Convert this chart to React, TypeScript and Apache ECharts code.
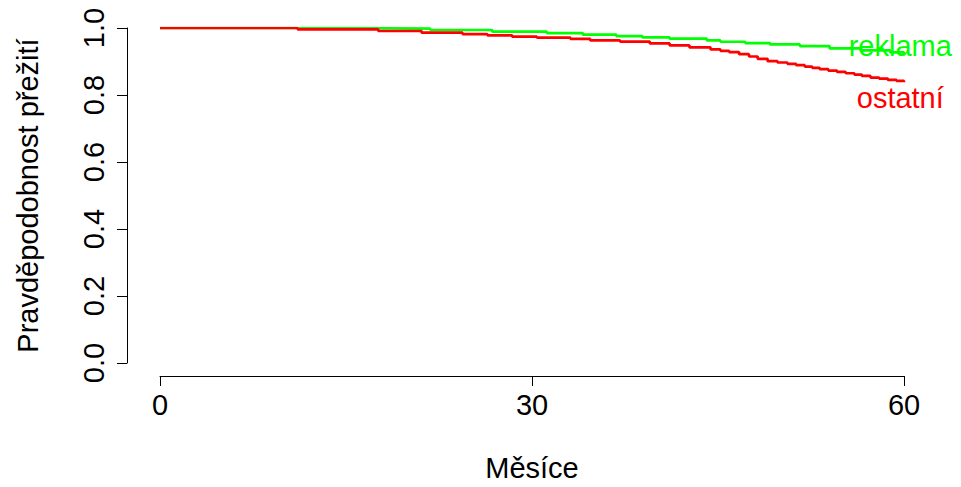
import React, { useEffect, useRef } from "react";
import * as echarts from "echarts";

const xTicks = [0, 30, 60];
const yTicks = [0, 0.2, 0.4, 0.6, 0.8, 1.0];

const reklamaTimes = [0, 14.3, 21.8, 26.8, 31.2, 34.1, 36.8, 38.9, 41.1, 44.1, 45.2, 47.2, 49.2, 51.6, 54.0, 56.5, 58.9, 60];
const reklamaSurv = [1.0, 0.998, 0.994, 0.989, 0.985, 0.98, 0.976, 0.972, 0.968, 0.963, 0.959, 0.955, 0.951, 0.946, 0.939, 0.933, 0.927, 0.918];

const ostatniTimes = [0, 11.1, 17.6, 21.1, 24.4, 26.4, 28.4, 30.4, 33.1, 34.7, 37.1, 39.5, 41.1, 42.7, 44.4, 45.2, 45.9, 46.7, 47.5, 48.2, 49.0, 49.8, 50.6, 51.3, 52.0, 52.6, 53.2, 53.9, 54.6, 55.3, 56.0, 56.6, 57.3, 58.0, 58.7, 59.4, 60];
const ostatniSurv = [1.0, 0.996, 0.991, 0.986, 0.982, 0.978, 0.974, 0.971, 0.9675, 0.963, 0.9595, 0.954, 0.948, 0.942, 0.936, 0.932, 0.928, 0.922, 0.915, 0.908, 0.901, 0.897, 0.893, 0.889, 0.885, 0.881, 0.877, 0.873, 0.869, 0.865, 0.861, 0.857, 0.852, 0.849, 0.845, 0.842, 0.838];

const labelReklama = { name: "reklama", x: 59.7, y: 0.945 };
const labelOstatni = { name: "ostatní", x: 59.7, y: 0.79 };

const FONT = "'Liberation Sans', Arial, sans-serif";

export default function App() {
  const ref = useRef<HTMLDivElement>(null);
  useEffect(() => {
    if (!ref.current) return;
    const chart = echarts.init(ref.current, undefined, { renderer: "svg" });
    const mk = (t: number[], s: number[]) => t.map((v, i) => [v, s[i]]);
    const textPoint = (l: { name: string; x: number; y: number }, color: string) => ({
      symbol: "circle",
      symbolSize: 1,
      itemStyle: { color: "rgba(0,0,0,0)" },
      silent: true,
      data: [
        {
          coord: [l.x, l.y],
          label: { show: true, formatter: l.name, color, fontSize: 29, fontFamily: FONT, position: "inside" },
        },
      ],
    });
    chart.setOption({
      animation: false,
      backgroundColor: "#ffffff",
      textStyle: { fontFamily: FONT },
      grid: { left: 160, right: 57, top: 28, bottom: 120 },
      xAxis: {
        type: "value",
        min: xTicks[0],
        max: xTicks[xTicks.length - 1],
        interval: 30,
        offset: 13,
        axisLine: { show: true, onZero: false, lineStyle: { color: "#000", width: 1 } },
        axisTick: { show: true, length: 10, lineStyle: { color: "#000" } },
        splitLine: { show: false },
        axisLabel: { fontSize: 29, color: "#000", margin: 14, fontFamily: FONT },
        name: "Měsíce",
        nameLocation: "middle",
        nameGap: 77,
        nameTextStyle: { fontSize: 29, color: "#000", fontFamily: FONT },
      },
      yAxis: {
        type: "value",
        min: yTicks[0],
        max: yTicks[yTicks.length - 1],
        interval: 0.2,
        offset: 33,
        axisLine: { show: true, onZero: false, lineStyle: { color: "#000", width: 1 } },
        axisTick: { show: true, length: 10, lineStyle: { color: "#000" } },
        splitLine: { show: false },
        axisLabel: {
          fontSize: 29,
          color: "#000",
          rotate: 90,
          margin: 19,
          fontFamily: FONT,
          formatter: (v: number) => v.toFixed(1),
        },
        name: "Pravděpodobnost přežití",
        nameLocation: "middle",
        nameGap: 85,
        nameTextStyle: { fontSize: 29, color: "#000", fontFamily: FONT },
      },
      series: [
        {
          type: "line",
          name: "reklama",
          step: "end",
          showSymbol: false,
          symbol: "none",
          data: mk(reklamaTimes, reklamaSurv),
          lineStyle: { color: "#00FF00", width: 2.7 },
          markPoint: textPoint(labelReklama, "#00FF00"),
        },
        {
          type: "line",
          name: "ostatní",
          step: "end",
          showSymbol: false,
          symbol: "none",
          data: mk(ostatniTimes, ostatniSurv),
          lineStyle: { color: "#FF0000", width: 2.7 },
          markPoint: textPoint(labelOstatni, "#FF0000"),
        },
      ],
    });
    return () => chart.dispose();
  }, []);
  return <div ref={ref} style={{ position: "fixed", left: 0, top: 0, width: 961, height: 487 }} />;
}
